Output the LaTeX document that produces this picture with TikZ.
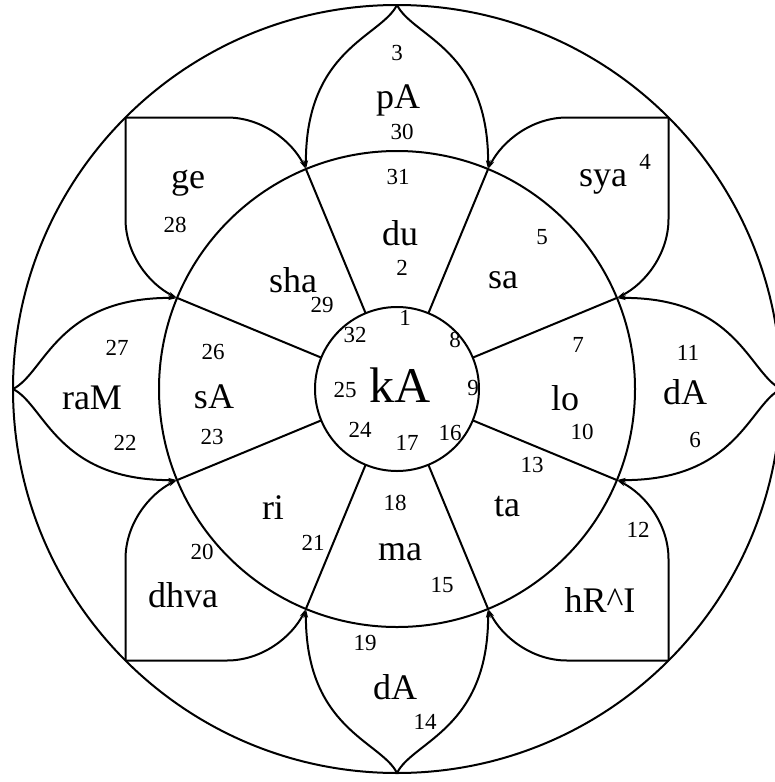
\documentclass[tikz,border=0pt]{standalone}
\usepackage{fontspec}
\setmainfont{Liberation Serif}
\usetikzlibrary{arrows.meta}
\begin{document}
\begin{tikzpicture}[x=1pt,y=-1pt,
  ln/.style={line width=2pt},
  side/.style={line width=2pt, -{Stealth[length=9pt,width=4.5pt]}},
  syl/.style={font=\fontsize{36}{36}\selectfont, inner sep=0pt},
  num/.style={font=\fontsize{23}{23}\selectfont, inner sep=0pt},
  big/.style={font=\fontsize{50}{50}\selectfont, inner sep=0pt}]
\useasboundingbox (0,0) rectangle (775,782);
\coordinate (C) at (397,389);
\draw[ln] (C) circle[radius=384];
\draw[ln] (C) circle[radius=238];
\draw[ln] (C) circle[radius=82];
\begin{scope}[shift={(397,389)}, yscale=-1]
  \foreach \a in {22.5,67.5,...,337.5} \draw[ln] (\a:82) -- (\a:238);
  \foreach \r in {0,90,180,270}{
    \begin{scope}[rotate=\r]
      \draw[side] (0,384) .. controls (-16,352) and (-92,340) .. (112.5:238);
      \draw[side] (0,384) .. controls (16,352) and (92,340) .. (67.5:238);
      \draw[side] (271.5,271.5) -- (170,271.5) .. controls (135,271.5) and (105,248) .. (67.5:238);
      \draw[side] (271.5,271.5) -- (271.5,170) .. controls (271.5,135) and (248,105) .. (22.5:238);
    \end{scope}}
\end{scope}
% syllables
\node[syl] (pA) at (398,100) {pA};
\node[syl] (du) at (400,233) {du};
\node[syl] (sya) at (603,182) {sya};
\node[syl] (sa) at (503,280) {sa};
\node[syl] (ge) at (188,183) {ge};
\node[syl] (sha) at (293,280) {sha};
\node[syl] (raM) at (92,398) {raM};
\node[syl] (sA) at (214,397) {sA};
\node[big] (kA) at (400,385) {kA};
\node[syl] (lo) at (565,398) {lo};
\node[syl] (dAr) at (685,392) {dA};
\node[syl] (ri) at (273,508) {ri};
\node[syl] (ta) at (507,507) {ta};
\node[syl] (ma) at (400,552) {ma};
\node[syl] (dhva) at (183,595) {dhva};
\node[syl] (hRI) at (600,600) {hR\textasciicircum I};
\node[syl] (dAb) at (395,687) {dA};
% numbers
\node[num] (n3) at (397,53) {3};
\node[num] (n30) at (402,132) {30};
\node[num] (n31) at (398,177) {31};
\node[num] (n2) at (402,268) {2};
\node[num] (n4) at (645,162) {4};
\node[num] (n5) at (542,237) {5};
\node[num] (n28) at (175,225) {28};
\node[num] (n29) at (322,305) {29};
\node[num] (n27) at (117,348) {27};
\node[num] (n22) at (125,443) {22};
\node[num] (n26) at (213,352) {26};
\node[num] (n23) at (212,437) {23};
\node[num] (n1) at (405,318) {1};
\node[num] (n8) at (455,340) {8};
\node[num] (n32) at (355,335) {32};
\node[num] (n25) at (345,390) {25};
\node[num] (n9) at (473,388) {9};
\node[num] (n24) at (360,430) {24};
\node[num] (n17) at (407,443) {17};
\node[num] (n16) at (450,433) {16};
\node[num] (n7) at (578,345) {7};
\node[num] (n10) at (582,432) {10};
\node[num] (n11) at (688,353) {11};
\node[num] (n6) at (695,440) {6};
\node[num] (n13) at (532,465) {13};
\node[num] (n12) at (638,530) {12};
\node[num] (n18) at (395,503) {18};
\node[num] (n21) at (313,543) {21};
\node[num] (n15) at (442,585) {15};
\node[num] (n20) at (202,552) {20};
\node[num] (n19) at (365,643) {19};
\node[num] (n14) at (425,722) {14};
\end{tikzpicture}
\end{document}
